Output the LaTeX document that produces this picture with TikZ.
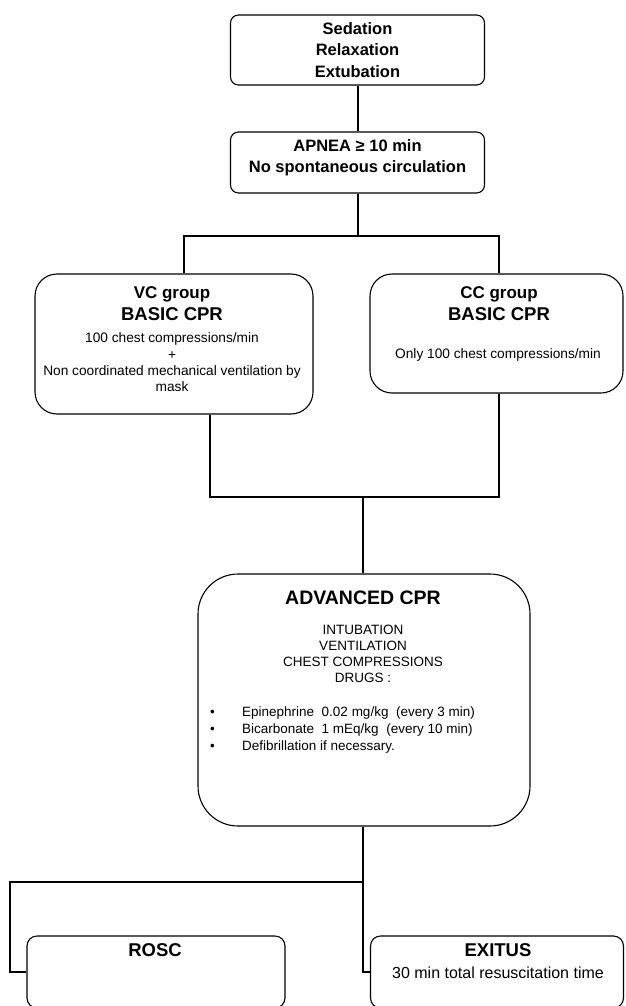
\documentclass[tikz,border=0pt]{standalone}
\usepackage{fontspec}
\setmainfont{Liberation Sans}
\usetikzlibrary{positioning,calc}

\begin{document}
\begin{tikzpicture}[x=1pt, y=-1pt,
    box/.style={draw, line width=1.1pt, inner sep=0pt, align=center},
    link/.style={line width=2pt},
    title/.style={font=\fontsize{16.5}{21.5}\selectfont\bfseries, align=center, inner sep=0pt},
    head/.style={font=\fontsize{18.5}{22}\selectfont\bfseries, align=center, inner sep=0pt},
    body/.style={font=\fontsize{13.7}{16.3}\selectfont, align=center, inner sep=0pt}
]
    \path[use as bounding box, clip] (0,0) rectangle (625,1006);

    \node[box, title, rounded corners=8pt, minimum width=254pt, minimum height=70pt] (sed) at (357.5,50) {Sedation\\Relaxation\\Extubation};
    \node[box, rounded corners=8pt, minimum width=254pt, minimum height=61pt] (apnea) at (357.5,162.5) {};
    \node[title] (apneatxt) at (357.5,157.5) {APNEA ≥ 10 min\\No spontaneous circulation};

    \node[box, rounded corners=22pt, minimum width=278pt, minimum height=140pt] (vc) at (174,344) {};
    \node[head] (vchead) at (172,304) {{\fontsize{17}{22}\selectfont VC group}\\BASIC CPR};
    \node[body] (vcbody) at (172,362.5) {100 chest compressions/min\\+\\Non coordinated mechanical ventilation by\\mask};

    \node[box, rounded corners=22pt, minimum width=253pt, minimum height=119pt] (cc) at (496.5,333.5) {};
    \node[head] (cchead) at (499,304) {{\fontsize{17}{22}\selectfont CC group}\\BASIC CPR};
    \node[body] (ccbody) at (498,354.5) {Only 100 chest compressions/min};

    \node[box, rounded corners=40pt, minimum width=332pt, minimum height=252pt] (adv) at (364,700) {};
    \node[head, font=\fontsize{19.5}{22}\selectfont\bfseries] (advhead) at (363,598) {ADVANCED CPR};
    \node[body, font=\fontsize{13.5}{16}\selectfont] (advbody) at (363,654) {INTUBATION\\VENTILATION\\CHEST COMPRESSIONS\\DRUGS :};
    \node[body, font=\fontsize{13.5}{17}\selectfont, align=left, anchor=west] (drugs) at (210,730)
        {\makebox[32pt][l]{\textbullet}Epinephrine\ \ 0.02 mg/kg\ \ (every 3 min)\\
         \makebox[32pt][l]{\textbullet}Bicarbonate\ \ 1 mEq/kg\ \ (every 10 min)\\
         \makebox[32pt][l]{\textbullet}Defibrillation if necessary.};

    \node[box, rounded corners=10pt, minimum width=258pt, minimum height=72pt] (rosc) at (156,972) {};
    \node[head] (rosctxt) at (155,950) {ROSC};
    \node[box, rounded corners=10pt, minimum width=253pt, minimum height=72pt] (exitus) at (497,972) {};
    \node[head] (exitustxt) at (498,950) {EXITUS};
    \node[body, font=\fontsize{16}{18}\selectfont] (exitusbody) at (498,973) {30 min total resuscitation time};

    \coordinate (split) at (357.5,236);
    \coordinate (join) at (363,497);
    \coordinate (fork) at (363,882);
    \coordinate (forkl) at (10,882);

    \draw[link] (sed) -- (apnea);
    \draw[link] (apnea) -- (split);
    \draw[link] ([xshift=10pt]vc.north) |- (split);
    \draw[link] (split) -| ([xshift=2.5pt]cc.north);
    \draw[link] ([xshift=36pt]vc.south) |- (join);
    \draw[link] ([xshift=2.5pt]cc.south) |- (join);
    \draw[link] (join) -- (join |- adv.north);
    \draw[link] (join |- adv.south) -- (fork);
    \draw[link] (fork) -- (forkl) |- (rosc.west);
    \draw[link] (fork) |- (exitus.west);
\end{tikzpicture}
\end{document}
